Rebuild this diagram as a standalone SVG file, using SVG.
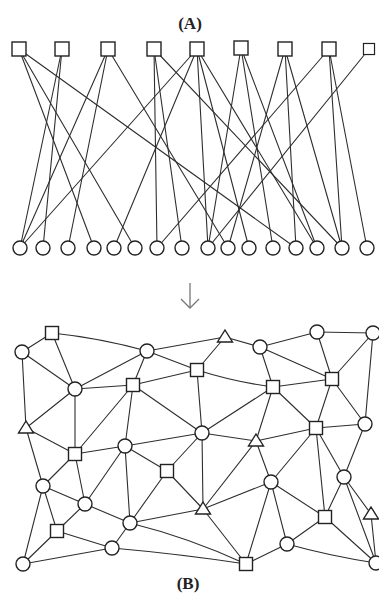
<svg xmlns="http://www.w3.org/2000/svg" xmlns:xlink="http://www.w3.org/1999/xlink" width="379" height="593" viewBox="0 0 379 593">
<style>
.bg{fill:#fff}
.e{stroke:#2e2e2e;stroke-width:1.1;fill:none;stroke-linecap:round}
.n{fill:#fff;stroke:#222;stroke-width:1.4}
.lbl{font-family:"Liberation Serif","Times New Roman",serif;font-size:17px;font-weight:bold;fill:#222;text-anchor:middle}
.arr{stroke:#777;stroke-width:1.3;fill:none}
</style>
<defs>
<rect id="sq" x="-7" y="-7" width="14" height="14"/>
<rect id="sqb" x="-6.5" y="-6.5" width="13" height="13"/>
<circle id="ci" r="7"/>
<path id="tr" d="M0,-7 L7.5,5 L-7.5,5 Z"/>
</defs>
<rect class="bg" x="0" y="0" width="379" height="593"/>
<text class="lbl" x="190" y="29">(A)</text>
<text class="lbl" x="188" y="589">(B)</text>

<g id="connectors-A">
<line class="e" x1="19" y1="49" x2="94" y2="248"/>
<line class="e" x1="19" y1="49" x2="135" y2="248"/>
<line class="e" x1="19" y1="49" x2="296" y2="248"/>
<line class="e" x1="62" y1="49" x2="20" y2="248"/>
<line class="e" x1="62" y1="49" x2="43" y2="248"/>
<line class="e" x1="108" y1="49" x2="20" y2="248"/>
<line class="e" x1="108" y1="49" x2="68" y2="248"/>
<line class="e" x1="108" y1="49" x2="228" y2="248"/>
<line class="e" x1="154" y1="49" x2="157" y2="248"/>
<line class="e" x1="154" y1="49" x2="182" y2="248"/>
<line class="e" x1="154" y1="49" x2="342" y2="248"/>
<line class="e" x1="197" y1="49" x2="20" y2="248"/>
<line class="e" x1="197" y1="49" x2="114" y2="248"/>
<line class="e" x1="197" y1="49" x2="208" y2="248"/>
<line class="e" x1="197" y1="49" x2="249" y2="248"/>
<line class="e" x1="197" y1="49" x2="317" y2="248"/>
<line class="e" x1="241" y1="48" x2="208" y2="248"/>
<line class="e" x1="241" y1="48" x2="273" y2="248"/>
<line class="e" x1="241" y1="48" x2="317" y2="248"/>
<line class="e" x1="285" y1="49" x2="228" y2="248"/>
<line class="e" x1="285" y1="49" x2="296" y2="248"/>
<line class="e" x1="285" y1="49" x2="342" y2="248"/>
<line class="e" x1="329" y1="49" x2="157" y2="248"/>
<line class="e" x1="329" y1="49" x2="342" y2="248"/>
<line class="e" x1="329" y1="49" x2="367" y2="248"/>
<line class="e" x1="369" y1="49" x2="208" y2="248"/>
</g>

<g id="A-squares">
<g id="s1"><use xlink:href="#sq" class="n" x="19" y="49"/></g>
<g id="s2"><use xlink:href="#sq" class="n" x="62" y="49"/></g>
<g id="s3"><use xlink:href="#sq" class="n" x="108" y="49"/></g>
<g id="s4"><use xlink:href="#sq" class="n" x="154" y="49"/></g>
<g id="s5"><use xlink:href="#sq" class="n" x="197" y="49"/></g>
<g id="s6"><use xlink:href="#sq" class="n" x="241" y="48"/></g>
<g id="s7"><use xlink:href="#sq" class="n" x="285" y="49"/></g>
<g id="s8"><use xlink:href="#sq" class="n" x="329" y="49"/></g>
<g id="s9"><use xlink:href="#sqb" class="n" x="369" y="49" transform="translate(369 49) scale(0.85) translate(-369 -49)"/></g>
</g>
<g id="A-circles">
<g id="c1"><use xlink:href="#ci" class="n" x="20" y="248"/></g>
<g id="c2"><use xlink:href="#ci" class="n" x="43" y="248"/></g>
<g id="c3"><use xlink:href="#ci" class="n" x="68" y="248"/></g>
<g id="c4"><use xlink:href="#ci" class="n" x="94" y="248"/></g>
<g id="c5"><use xlink:href="#ci" class="n" x="114" y="248"/></g>
<g id="c6"><use xlink:href="#ci" class="n" x="135" y="248"/></g>
<g id="c7"><use xlink:href="#ci" class="n" x="157" y="248"/></g>
<g id="c8"><use xlink:href="#ci" class="n" x="182" y="248"/></g>
<g id="c9"><use xlink:href="#ci" class="n" x="208" y="248"/></g>
<g id="c10"><use xlink:href="#ci" class="n" x="228" y="248"/></g>
<g id="c11"><use xlink:href="#ci" class="n" x="249" y="248"/></g>
<g id="c12"><use xlink:href="#ci" class="n" x="273" y="248"/></g>
<g id="c13"><use xlink:href="#ci" class="n" x="296" y="248"/></g>
<g id="c14"><use xlink:href="#ci" class="n" x="317" y="248"/></g>
<g id="c15"><use xlink:href="#ci" class="n" x="342" y="248"/></g>
<g id="c16"><use xlink:href="#ci" class="n" x="367" y="248"/></g>
</g>

<g id="arrow">
<line class="arr" x1="190" y1="283" x2="190" y2="308"/>
<polyline class="arr" points="181,299 190,308 199,299"/>
</g>

<g id="connectors-B">
<line class="e" x1="52" y1="333" x2="22" y2="352"/>
<path class="e" d="M52,333 Q100,338 147,351"/>
<line class="e" x1="52" y1="333" x2="75" y2="389"/>
<line class="e" x1="22" y1="352" x2="75" y2="389"/>
<line class="e" x1="22" y1="352" x2="26" y2="428"/>
<line class="e" x1="147" y1="351" x2="75" y2="389"/>
<line class="e" x1="147" y1="351" x2="133" y2="385"/>
<line class="e" x1="147" y1="351" x2="225" y2="337"/>
<line class="e" x1="147" y1="351" x2="197" y2="370"/>
<line class="e" x1="75" y1="389" x2="133" y2="385"/>
<line class="e" x1="75" y1="389" x2="26" y2="428"/>
<line class="e" x1="75" y1="389" x2="75" y2="454"/>
<line class="e" x1="133" y1="385" x2="75" y2="454"/>
<line class="e" x1="133" y1="385" x2="125" y2="446"/>
<line class="e" x1="133" y1="385" x2="197" y2="370"/>
<line class="e" x1="133" y1="385" x2="202" y2="433"/>
<line class="e" x1="26" y1="428" x2="75" y2="454"/>
<line class="e" x1="26" y1="428" x2="43" y2="486"/>
<line class="e" x1="125" y1="446" x2="202" y2="433"/>
<line class="e" x1="225" y1="337" x2="197" y2="370"/>
<line class="e" x1="225" y1="337" x2="260" y2="347"/>
<line class="e" x1="260" y1="347" x2="317" y2="332"/>
<line class="e" x1="317" y1="332" x2="373" y2="333"/>
<line class="e" x1="260" y1="347" x2="273" y2="387"/>
<line class="e" x1="260" y1="347" x2="332" y2="379"/>
<line class="e" x1="317" y1="332" x2="332" y2="379"/>
<line class="e" x1="373" y1="333" x2="332" y2="379"/>
<line class="e" x1="373" y1="333" x2="365" y2="424"/>
<path class="e" d="M197,370 Q235,382 273,387"/>
<line class="e" x1="197" y1="370" x2="202" y2="433"/>
<line class="e" x1="273" y1="387" x2="332" y2="379"/>
<line class="e" x1="273" y1="387" x2="202" y2="433"/>
<line class="e" x1="273" y1="387" x2="256" y2="441"/>
<line class="e" x1="273" y1="387" x2="316" y2="428"/>
<line class="e" x1="332" y1="379" x2="316" y2="428"/>
<line class="e" x1="332" y1="379" x2="365" y2="424"/>
<line class="e" x1="202" y1="433" x2="256" y2="441"/>
<line class="e" x1="316" y1="428" x2="365" y2="424"/>
<line class="e" x1="256" y1="441" x2="316" y2="428"/>
<line class="e" x1="202" y1="433" x2="203" y2="509"/>
<line class="e" x1="316" y1="428" x2="271" y2="482"/>
<line class="e" x1="316" y1="428" x2="325" y2="517"/>
<line class="e" x1="316" y1="428" x2="344" y2="477"/>
<line class="e" x1="365" y1="424" x2="344" y2="477"/>
<line class="e" x1="256" y1="441" x2="203" y2="509"/>
<line class="e" x1="256" y1="441" x2="271" y2="482"/>
<line class="e" x1="203" y1="509" x2="271" y2="482"/>
<line class="e" x1="203" y1="509" x2="246" y2="564"/>
<line class="e" x1="203" y1="509" x2="130" y2="523"/>
<line class="e" x1="167" y1="471" x2="203" y2="509"/>
<line class="e" x1="271" y1="482" x2="246" y2="564"/>
<line class="e" x1="271" y1="482" x2="287" y2="544"/>
<line class="e" x1="271" y1="482" x2="325" y2="517"/>
<line class="e" x1="325" y1="517" x2="287" y2="544"/>
<line class="e" x1="325" y1="517" x2="344" y2="477"/>
<line class="e" x1="325" y1="517" x2="376" y2="563"/>
<line class="e" x1="344" y1="477" x2="371" y2="514"/>
<line class="e" x1="344" y1="477" x2="376" y2="563"/>
<line class="e" x1="371" y1="514" x2="376" y2="563"/>
<line class="e" x1="287" y1="544" x2="246" y2="564"/>
<path class="e" d="M287,544 Q330,556 376,563"/>
<path class="e" d="M112,548 Q180,554 246,564"/>
<path class="e" d="M130,523 Q190,538 246,564"/>
<line class="e" x1="75" y1="454" x2="125" y2="446"/>
<line class="e" x1="75" y1="454" x2="43" y2="486"/>
<line class="e" x1="75" y1="454" x2="85" y2="504"/>
<line class="e" x1="125" y1="446" x2="167" y2="471"/>
<line class="e" x1="125" y1="446" x2="85" y2="504"/>
<line class="e" x1="125" y1="446" x2="130" y2="523"/>
<line class="e" x1="167" y1="471" x2="130" y2="523"/>
<line class="e" x1="167" y1="471" x2="202" y2="433"/>
<line class="e" x1="43" y1="486" x2="85" y2="504"/>
<line class="e" x1="43" y1="486" x2="57" y2="531"/>
<line class="e" x1="43" y1="486" x2="23" y2="564"/>
<line class="e" x1="85" y1="504" x2="57" y2="531"/>
<line class="e" x1="85" y1="504" x2="130" y2="523"/>
<line class="e" x1="130" y1="523" x2="112" y2="548"/>
<line class="e" x1="57" y1="531" x2="112" y2="548"/>
<line class="e" x1="57" y1="531" x2="23" y2="564"/>
<line class="e" x1="23" y1="564" x2="112" y2="548"/>
</g>

<g id="B-nodes">
<g id="b1"><use xlink:href="#ci" class="n" x="22" y="352"/></g>
<g id="b2"><use xlink:href="#sqb" class="n" x="52" y="333"/></g>
<g id="b3"><use xlink:href="#ci" class="n" x="147" y="351"/></g>
<g id="b4"><use xlink:href="#tr" class="n" x="225" y="337"/></g>
<g id="b5"><use xlink:href="#ci" class="n" x="260" y="347"/></g>
<g id="b6"><use xlink:href="#ci" class="n" x="317" y="332"/></g>
<g id="b7"><use xlink:href="#ci" class="n" x="373" y="333"/></g>
<g id="b8"><use xlink:href="#ci" class="n" x="75" y="389"/></g>
<g id="b9"><use xlink:href="#sqb" class="n" x="133" y="385"/></g>
<g id="b10"><use xlink:href="#sqb" class="n" x="197" y="370"/></g>
<g id="b11"><use xlink:href="#sqb" class="n" x="273" y="387"/></g>
<g id="b12"><use xlink:href="#sqb" class="n" x="332" y="379"/></g>
<g id="b13"><use xlink:href="#tr" class="n" x="26" y="428"/></g>
<g id="b14"><use xlink:href="#ci" class="n" x="125" y="446"/></g>
<g id="b15"><use xlink:href="#sqb" class="n" x="75" y="454"/></g>
<g id="b16"><use xlink:href="#ci" class="n" x="202" y="433"/></g>
<g id="b17"><use xlink:href="#tr" class="n" x="256" y="441"/></g>
<g id="b18"><use xlink:href="#sqb" class="n" x="316" y="428"/></g>
<g id="b19"><use xlink:href="#ci" class="n" x="365" y="424"/></g>
<g id="b20"><use xlink:href="#sqb" class="n" x="167" y="471"/></g>
<g id="b21"><use xlink:href="#ci" class="n" x="43" y="486"/></g>
<g id="b22"><use xlink:href="#ci" class="n" x="85" y="504"/></g>
<g id="b23"><use xlink:href="#ci" class="n" x="271" y="482"/></g>
<g id="b24"><use xlink:href="#ci" class="n" x="344" y="477"/></g>
<g id="b25"><use xlink:href="#tr" class="n" x="203" y="509"/></g>
<g id="b26"><use xlink:href="#ci" class="n" x="130" y="523"/></g>
<g id="b27"><use xlink:href="#sqb" class="n" x="325" y="517"/></g>
<g id="b28"><use xlink:href="#tr" class="n" x="371" y="514"/></g>
<g id="b29"><use xlink:href="#sqb" class="n" x="57" y="531"/></g>
<g id="b30"><use xlink:href="#ci" class="n" x="112" y="548"/></g>
<g id="b31"><use xlink:href="#ci" class="n" x="287" y="544"/></g>
<g id="b32"><use xlink:href="#ci" class="n" x="23" y="564"/></g>
<g id="b33"><use xlink:href="#sqb" class="n" x="246" y="564"/></g>
<g id="b34"><use xlink:href="#ci" class="n" x="376" y="563"/></g>
</g>
</svg>
